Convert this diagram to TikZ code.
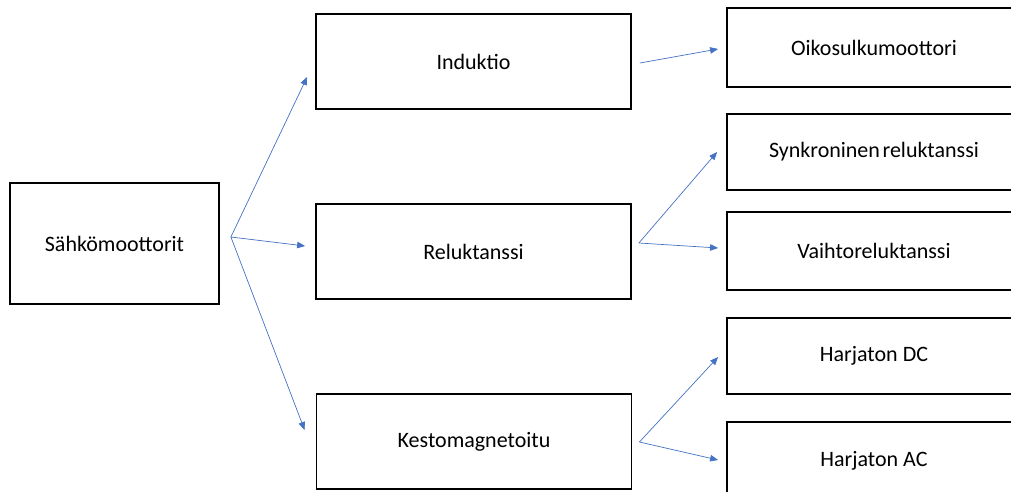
\documentclass[tikz,border=0pt]{standalone}
\usepackage{fontspec}
\setmainfont{Carlito}
\usetikzlibrary{arrows.meta,positioning}
\definecolor{arrowblue}{RGB}{68,114,196}

\begin{document}
\begin{tikzpicture}[
    x=1pt,y=-1pt,
    motorbox/.style={rectangle,minimum width=209pt,minimum height=121pt,text centered,draw=black,line width=1.8pt,font=\fontsize{22}{26}\selectfont},
    typebox/.style={rectangle,minimum width=315pt,minimum height=95pt,text centered,draw=black,line width=1.8pt,font=\fontsize{22}{26}\selectfont},
    subbox/.style={rectangle,minimum width=294pt,text centered,draw=black,line width=1.8pt,font=\fontsize{22}{26}\selectfont},
    arrow/.style={-{Triangle[length=8pt,width=6.5pt]},draw=arrowblue,line width=0.7pt}
]
\clip (0,0) rectangle (1011,492);
\fill[white] (0,0) rectangle (1011,492);

% Root
\node[motorbox] (motors) at (114.5,243.5) {Sähkömoottorit};

% Motor types
\node[typebox] (induktio) at (473.5,61.5) {Induktio};
\node[typebox] (reluktanssi) at (473.5,251.5) {Reluktanssi};
\node[typebox] (kesto) at (474,441.5) {Kestomagnetoitu};

% Subtypes
\node[subbox,minimum height=79pt] (oikosulku) at (874,47.5) {Oikosulkumoottori};
\node[subbox,minimum height=76pt] (synkroninen) at (874,152) {Synkroninen\hspace{0.12em}reluktanssi};
\node[subbox,minimum height=78pt] (vaihto) at (874,251) {Vaihtoreluktanssi};
\node[subbox,minimum height=76pt] (harjatondc) at (874,356) {Harjaton DC};
\node[subbox,minimum height=78pt] (harjatonac) at (874,461) {Harjaton AC};

% Arrows
\draw[arrow] ([xshift=11pt,yshift=6.5pt]motors.east) -- ([xshift=-8pt,yshift=-15.5pt]induktio.west);
\draw[arrow] ([xshift=11pt,yshift=6.5pt]motors.east) -- ([xshift=-10pt,yshift=5.5pt]reluktanssi.west);
\draw[arrow] ([xshift=11pt,yshift=6.5pt]motors.east) -- ([xshift=-11pt,yshift=11.5pt]kesto.west);
\draw[arrow] ([xshift=8pt,yshift=-1.5pt]induktio.east) -- ([xshift=-8pt,yshift=-1.5pt]oikosulku.west);
\draw[arrow] ([xshift=7pt,yshift=8.5pt]reluktanssi.east) -- ([xshift=-9pt]synkroninen.west);
\draw[arrow] ([xshift=7pt,yshift=8.5pt]reluktanssi.east) -- ([xshift=-8pt,yshift=3pt]vaihto.west);
\draw[arrow] ([xshift=7pt,yshift=-0.5pt]kesto.east) -- ([xshift=-8pt,yshift=-1pt]harjatondc.west);
\draw[arrow] ([xshift=7pt,yshift=-0.5pt]kesto.east) -- ([xshift=-8pt,yshift=1pt]harjatonac.west);
\end{tikzpicture}
\end{document}
